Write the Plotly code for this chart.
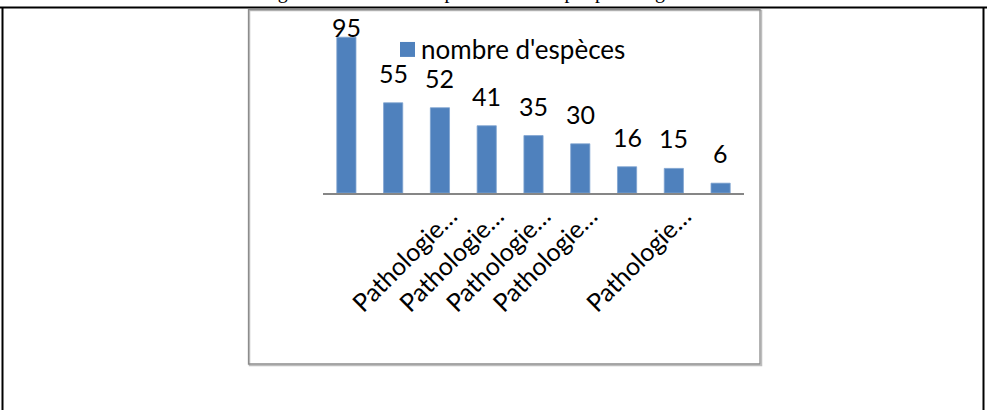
import plotly.graph_objects as go

# ---- data ----
categories = ["cat1", "cat2", "cat3", "cat4", "cat5", "cat6", "cat7", "cat8", "cat9"]
tick_labels = ["", "", "Pathologie…", "Pathologie…", "Pathologie…", "Pathologie…", "", "Pathologie…", ""]
species_counts = [95, 55, 52, 41, 35, 30, 16, 15, 6]
series_name = "nombre d'espèces"
caption = "Figure 3 : Nombre d'espèces utilisées par pathologie"

W, H = 987, 410
# plot area in pixels
PX0, PX1 = 323, 744
PY0, PY1 = 29, 193.5  # top, bottom
YMAX = 100


def px(x):
    return (x - PX0) / (PX1 - PX0)


def py(y):
    return (PY1 - y) / (PY1 - PY0)


BLUE = "#4F81BD"
FONT = "Lato"

fig = go.Figure()
fig.add_trace(go.Bar(
    x=categories, y=species_counts, name=series_name,
    marker=dict(color=BLUE, line=dict(color="#7FA3D1", width=0.8)),
    showlegend=False,
))

# data labels (Excel-like: placed ~20px above bar, kept inside the chart area)
unit_px = (PY1 - PY0) / YMAX
for c, v in zip(categories, species_counts):
    label_y = min(v + 20 / unit_px, YMAX - 8 / unit_px)
    fig.add_annotation(x=c, y=label_y, text=str(v), showarrow=False,
                       xref="x", yref="y", yanchor="bottom", yshift=-7,
                       font=dict(family=FONT, size=25, color="black"))

# legend (Excel style: square key + series name)
fig.add_shape(type="rect", xref="paper", yref="paper",
              x0=px(400), x1=px(415), y0=py(57), y1=py(42),
              fillcolor=BLUE, line=dict(width=0))
fig.add_annotation(x=px(419), y=py(49.5), xref="paper", yref="paper",
                   text=series_name, showarrow=False, xanchor="left", yanchor="middle",
                   font=dict(family=FONT, size=26, color="black"))

# chart box (with slight shadow)
fig.add_shape(type="rect", xref="paper", yref="paper",
              x0=px(249.5), x1=px(761.5), y0=py(366.5), y1=py(10.5),
              line=dict(color="#BDBDBD", width=1.5), layer="below")
fig.add_shape(type="rect", xref="paper", yref="paper",
              x0=px(248.5), x1=px(760), y0=py(365), y1=py(9.5),
              line=dict(color="#8C8C8C", width=1.3), layer="below")

# outer table cell lines
fig.add_shape(type="line", xref="paper", yref="paper",
              x0=px(0), x1=px(W), y0=py(7.5), y1=py(7.5),
              line=dict(color="black", width=2))
fig.add_shape(type="line", xref="paper", yref="paper",
              x0=px(2.5), x1=px(2.5), y0=py(7), y1=py(H + 5),
              line=dict(color="black", width=2))
fig.add_shape(type="line", xref="paper", yref="paper",
              x0=px(983.5), x1=px(983.5), y0=py(7), y1=py(H + 5),
              line=dict(color="black", width=2))

# caption (cut off at the top of the picture)
fig.add_annotation(x=px(470), y=py(4.5), xref="paper", yref="paper",
                   text=caption, showarrow=False, yanchor="bottom",
                   font=dict(family="Liberation Serif", size=20, color="black"))

fig.update_layout(
    width=W, height=H,
    margin=dict(l=PX0, r=W - PX1, t=PY0, b=H - PY1, pad=0),
    paper_bgcolor="white", plot_bgcolor="white",
    bargap=0.59,
    font=dict(family=FONT, size=20, color="black"),
    showlegend=False,
    xaxis=dict(tickmode="array", tickvals=categories, ticktext=tick_labels,
               tickangle=-45, showline=True, linecolor="#868686", linewidth=1.5,
               ticks="", showgrid=False, zeroline=False, ticklabelshift=10,
               ticklabelstandoff=-3,
               tickfont=dict(family=FONT, size=25, color="black")),
    yaxis=dict(range=[0, YMAX], visible=False, showgrid=False),
)

fig.write_html("out.html", config={"displayModeBar": False},
               post_script="document.body.style.margin='0';document.body.style.overflow='hidden';")
